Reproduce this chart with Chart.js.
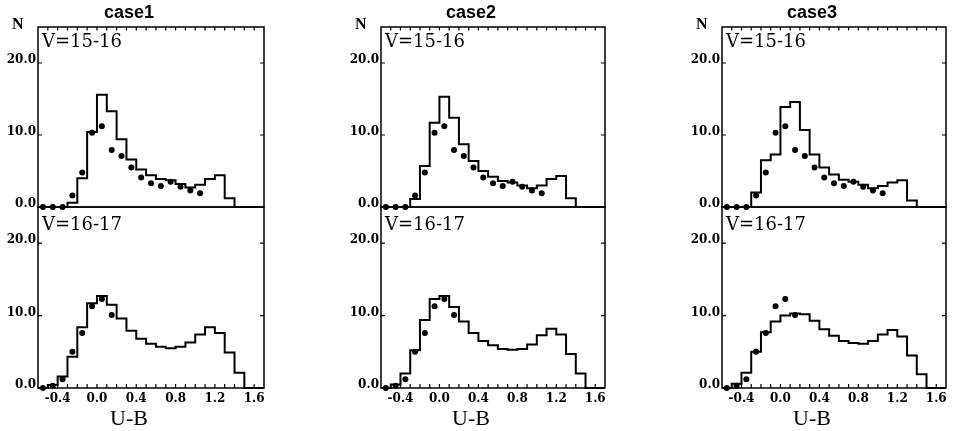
<!DOCTYPE html>
<html><head><meta charset="utf-8">
<script src="https://cdn.jsdelivr.net/npm/chart.js@4.4.0/dist/chart.umd.min.js"></script>
<style>
html,body{margin:0;padding:0;background:#fff;width:953px;height:431px;overflow:hidden;position:relative}
.box{position:absolute}
.lbl{position:absolute;white-space:nowrap;color:#000;line-height:1}
</style></head><body>
<script>
// ---------- data ----------
const caseNames = ['case1', 'case2', 'case3'];
const magLabels = ['V=15-16', 'V=16-17'];
const xTickVals = [-0.4, 0.0, 0.4, 0.8, 1.2, 1.6];
const xTickLabels = ['-0.4', '0.0', '0.4', '0.8', '1.2', '1.6'];
const xMinorTicks = [-0.5,-0.4,-0.3,-0.2,-0.1,0.0,0.1,0.2,0.3,0.4,0.5,0.6,0.7,0.8,0.9,1.0,1.1,1.2,1.3,1.4,1.5,1.6];
const yTickVals = [0, 10, 20];
const yTickLabels = ['0.0', '10.0', '20.0'];
const yInnerTicks = [10, 20];

// histogram bins (lower edges, width 0.1), U-B
const binLo = [-0.6,-0.5,-0.4,-0.3,-0.2,-0.1,0.0,0.1,0.2,0.3,0.4,0.5,0.6,0.7,0.8,0.9,1.0,1.1,1.2,1.3,1.4,1.5,1.6];
const binEnd = 1.7;

const case1Upper = [0,0,0,0.6,4.0,10.4,15.6,13.3,9.4,6.6,5.2,4.4,3.9,3.7,3.2,2.7,3.1,3.9,4.4,1.2,0,0,0];
const case1Lower = [0,0.4,1.6,4.3,8.4,11.7,12.7,11.5,9.6,7.9,6.8,6.1,5.7,5.5,5.7,6.3,7.4,8.4,7.6,4.9,2.1,0,0];
const case2Upper = [0,0,0,1.1,5.7,11.7,15.3,12.4,8.7,6.4,5.0,4.2,3.6,3.4,3.0,2.6,3.0,3.9,4.3,1.2,0,0,0];
const case2Lower = [0,0.5,2.0,5.2,9.4,12.3,12.7,11.2,9.2,7.6,6.5,5.9,5.4,5.3,5.4,6.0,7.3,8.2,7.4,4.7,2.0,0,0];
const case3Upper = [0,0,0,2.0,6.5,7.3,13.9,14.6,10.7,7.3,5.5,4.5,3.8,3.5,3.1,2.6,2.9,3.4,3.7,0.9,0,0,0];
const case3Lower = [0,0.6,2.1,5.0,7.7,9.2,10.0,10.3,10.2,9.3,8.1,7.2,6.5,6.2,6.1,6.5,7.4,8.0,7.1,4.5,1.9,0,0];

// observed counts (dots) at bin centres
const dotX = [-0.55,-0.45,-0.35,-0.25,-0.15,-0.05,0.05,0.15,0.25,0.35,0.45,0.55,0.65,0.75,0.85,0.95,1.05];
const obsUpper = [0,0,0,1.6,4.8,10.3,11.2,7.9,7.1,5.5,4.1,3.3,2.9,3.5,2.8,2.3,1.9];
const obsLower = [0,0.3,1.2,5.0,7.6,11.3,12.3,10.1];

const histModels = [[case1Upper, case1Lower], [case2Upper, case2Lower], [case3Upper, case3Lower]];

// ---------- layout ----------
const plotLeft = [38, 381, 722];
const plotWidth = [226, 224, 224];
const TOP = 27, MID = 207, BOT = 388;
const YAXW = 44, RPAD = 14, EDGE = 4;

const tickFont = {family: 'DejaVu Serif', weight: 'bold', size: 12};

const framePlugin = {
  id: 'frame',
  afterDatasetsDraw(chart, args, opts) {
    const {ctx, chartArea: a, scales} = chart;
    ctx.save();
    ctx.strokeStyle = '#000';
    ctx.lineWidth = 1.5;
    ctx.strokeRect(a.left, a.top, a.right - a.left, a.bottom - a.top);
    ctx.lineWidth = 1.2;
    ctx.beginPath();
    xMinorTicks.forEach(v => {
      const px = scales.x.getPixelForValue(v);
      if (opts.row === 0) { ctx.moveTo(px, a.top); ctx.lineTo(px, a.top + 3.5); }
      else { ctx.moveTo(px, a.bottom); ctx.lineTo(px, a.bottom - 4); }
    });
    yInnerTicks.forEach(v => {
      const py = scales.y.getPixelForValue(v);
      ctx.moveTo(a.left, py); ctx.lineTo(a.left + 4, py);
      ctx.moveTo(a.right, py); ctx.lineTo(a.right - 4, py);
    });
    ctx.stroke();
    ctx.restore();
  }
};

function addLabel(text, left, top, font) {
  const d = document.createElement('div');
  d.className = 'lbl';
  d.textContent = text;
  d.style.left = left + 'px';
  d.style.top = top + 'px';
  d.style.font = font;
  document.body.appendChild(d);
  return d;
}

function makePanel(c, r) {
  const left = plotLeft[c] - YAXW;
  const width = YAXW + plotWidth[c] + RPAD;
  const top = r === 0 ? 0 : MID - EDGE;
  const height = r === 0 ? MID + EDGE : 430 - (MID - EDGE);
  const box = document.createElement('div');
  box.className = 'box';
  box.style.left = left + 'px';
  box.style.top = top + 'px';
  box.style.width = width + 'px';
  box.style.height = height + 'px';
  const cv = document.createElement('canvas');
  box.appendChild(cv);
  document.body.appendChild(box);

  const model = histModels[c][r];
  const histPts = binLo.map((x, i) => ({x: x, y: model[i]}));
  histPts.push({x: binEnd, y: 0});
  const obs = r === 0 ? obsUpper : obsLower;
  const dotPts = obs.map((y, i) => ({x: dotX[i], y: y}));

  new Chart(cv, {
    type: 'line',
    data: {
      datasets: [
        {data: histPts, stepped: 'before', borderColor: '#000', borderWidth: 2,
         pointRadius: 0, fill: false, clip: false},
        {data: dotPts, showLine: false, pointRadius: 3, pointStyle: 'circle',
         backgroundColor: '#000', borderColor: '#000', borderWidth: 0, clip: false}
      ]
    },
    options: {
      responsive: true, maintainAspectRatio: false, animation: false, events: [],
      layout: {padding: {top: r === 0 ? 0 : EDGE, bottom: r === 0 ? EDGE : 0, left: 0, right: RPAD}},
      plugins: {
        legend: {display: false}, tooltip: {enabled: false},
        title: r === 0 ?
          {display: true, text: caseNames[c], position: 'top', color: '#000',
           font: {family: 'Liberation Sans', weight: 'bold', size: 18, lineHeight: 1},
           padding: {top: 4, bottom: 5}} :
          {display: true, text: 'U-B', position: 'bottom', color: '#000',
           font: {family: 'Liberation Serif', weight: 'normal', size: 22, lineHeight: 1},
           padding: {top: 0, bottom: 0}},
        frame: {row: r}
      },
      scales: {
        x: {
          type: 'linear', min: -0.6, max: 1.7, display: r === 1,
          grid: {display: false, drawTicks: false}, border: {display: false},
          afterBuildTicks: s => { s.ticks = xTickVals.map(v => ({value: v})); },
          afterFit: s => {
            if (r === 1) s.height = 20;
            s.paddingLeft = 0; s.paddingRight = 0;
          },
          ticks: {font: tickFont, color: '#000', padding: 4, maxRotation: 0, autoSkip: false,
                  callback: (v, i) => xTickLabels[i]}
        },
        y: {
          min: 0, max: 25,
          grid: {display: false, drawTicks: false}, border: {display: false},
          afterBuildTicks: s => { s.ticks = yTickVals.map(v => ({value: v})); },
          afterFit: s => { s.width = YAXW; s.paddingTop = 0; s.paddingBottom = 0; },
          ticks: {font: tickFont, color: '#000', padding: 2, labelOffset: -3,
                  callback: (v, i) => yTickLabels[i]}
        }
      }
    },
    plugins: [framePlugin]
  });
}

for (let c = 0; c < 3; c++) {
  makePanel(c, 0);
  makePanel(c, 1);
  addLabel('N', plotLeft[c] - 26, 15, 'bold 16px "Liberation Serif"');
  addLabel(magLabels[0], plotLeft[c] + 4, 30, '18px "DejaVu Serif"');
  addLabel(magLabels[1], plotLeft[c] + 4, 213, '18px "DejaVu Serif"');
}
</script>
</body></html>
